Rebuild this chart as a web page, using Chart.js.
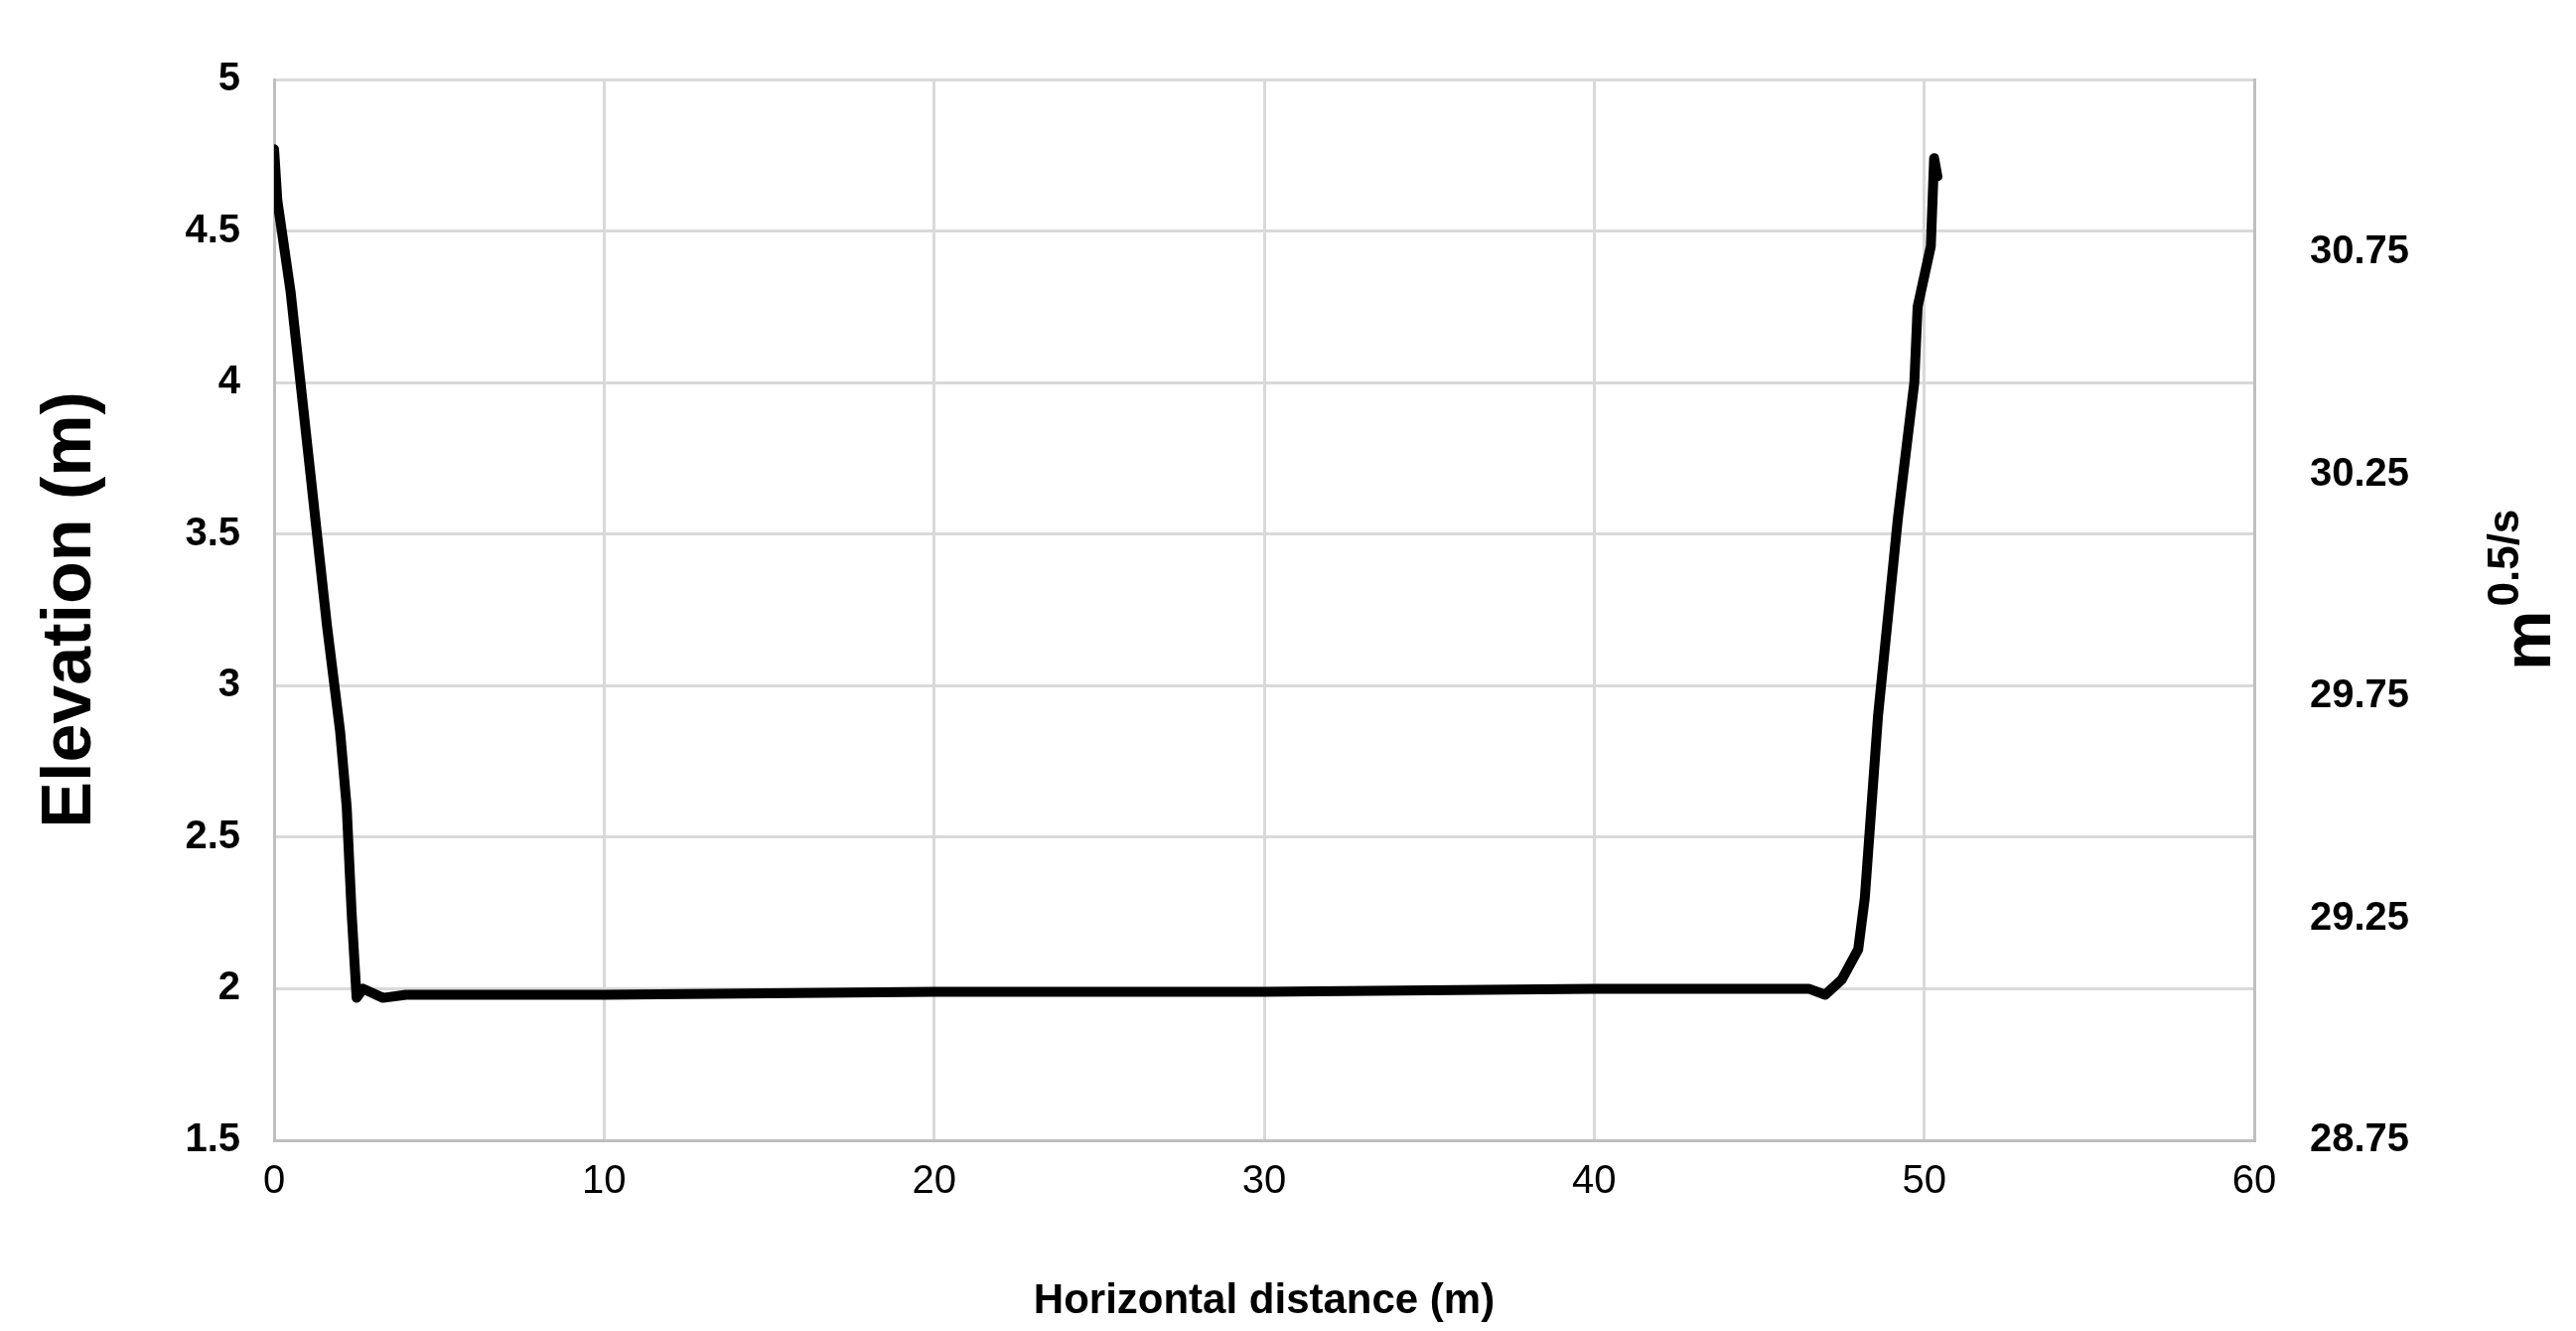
<!DOCTYPE html>
<html>
<head>
<meta charset="utf-8">
<script src="https://cdn.jsdelivr.net/npm/chart.js@4"></script>
<style>
  html, body { margin: 0; padding: 0; background: #fff; }
  #wrap { width: 2594px; height: 1340px; }
</style>
</head>
<body>
<div id="wrap"><canvas id="chart" width="2594" height="1340"></canvas></div>
<script>
// channel cross-section
const distance = [0, 0.1, 0.5, 1.0, 1.6, 2.0, 2.2, 2.35, 2.5, 2.7, 3.3, 4.0, 10, 20, 30, 40, 46.5, 47.0, 47.5, 48.0, 48.2, 48.6, 49.2, 49.7, 49.8, 50.0, 50.2, 50.3, 50.4];
const elevation = [4.77, 4.6, 4.3, 3.8, 3.2, 2.85, 2.6, 2.25, 1.97, 2.0, 1.97, 1.98, 1.98, 1.99, 1.99, 2.0, 2.0, 1.98, 2.03, 2.13, 2.3, 2.9, 3.55, 4.0, 4.25, 4.35, 4.45, 4.74, 4.68];
const rightTicks = [28.75, 29.25, 29.75, 30.25, 30.75];

const font = 'Liberation Sans, Arial, sans-serif';
const gridColor = '#d9d9d9';
const axisColor = '#bfbfbf';

const rightTitle = {
    id: 'rightTitle',
    afterDraw(chart) {
        const c = chart.ctx;
        c.save();
        c.translate(2568, 675);
        c.rotate(-Math.PI / 2);
        c.fillStyle = '#000';
        c.textBaseline = 'alphabetic';
        c.textAlign = 'left';
        c.font = 'bold 68px ' + font;
        c.fillText('m', 0, 0);
        const w = c.measureText('m').width;
        c.font = 'bold 44px ' + font;
        c.fillText('0.5/s', w + 4, -32);
        c.restore();
    }
};

new Chart(document.getElementById('chart'), {
    type: 'scatter',
    data: {
        datasets: [{
            data: distance.map((x, i) => ({ x: x, y: elevation[i] })),
            showLine: true,
            borderColor: '#000',
            borderWidth: 10,
            pointRadius: 0,
            tension: 0,
            borderJoinStyle: 'round',
            borderCapStyle: 'round',
            yAxisID: 'y'
        }, {
            data: [],
            yAxisID: 'y2'
        }]
    },
    options: {
        responsive: false,
        devicePixelRatio: 1,
        animation: false,
        layout: { padding: { top: 68, left: 0, right: 0 } },
        plugins: { legend: { display: false }, tooltip: { enabled: false } },
        scales: {
            x: {
                type: 'linear',
                min: 0,
                max: 60,
                ticks: { stepSize: 10, color: '#000', padding: 18, font: { family: font, size: 40 } },
                grid: { color: gridColor, lineWidth: 3, drawTicks: false },
                border: { color: axisColor, width: 3 },
                title: { display: true, text: 'Horizontal distance (m)', color: '#000', padding: { top: 8 }, font: { family: font, size: 42, weight: 'bold' } },
                afterFit(s) { s.height = 192; }
            },
            y: {
                position: 'left',
                min: 1.5,
                max: 5,
                ticks: { stepSize: 0.5, color: '#000', padding: 34, font: { family: font, size: 40, weight: 'bold' }, callback: v => String(v) },
                grid: { color: gridColor, lineWidth: 3, drawTicks: false },
                border: { color: axisColor, width: 3 },
                title: { display: true, text: 'Elevation (m)', color: '#000', padding: { top: 30 }, font: { family: font, size: 70, weight: 'bold' } },
                afterFit(s) { s.width = 276; }
            },
            y2: {
                position: 'right',
                min: 28.75,
                max: 31.14,
                afterBuildTicks(s) { s.ticks = rightTicks.map(v => ({ value: v })); },
                ticks: { color: '#000', padding: 56, font: { family: font, size: 40, weight: 'bold' }, callback: v => v.toFixed(2) },
                grid: { display: false, drawTicks: false },
                border: { color: axisColor, width: 3 },
                afterFit(s) { s.width = 324; }
            }
        }
    },
    plugins: [rightTitle]
});
</script>
</body>
</html>
